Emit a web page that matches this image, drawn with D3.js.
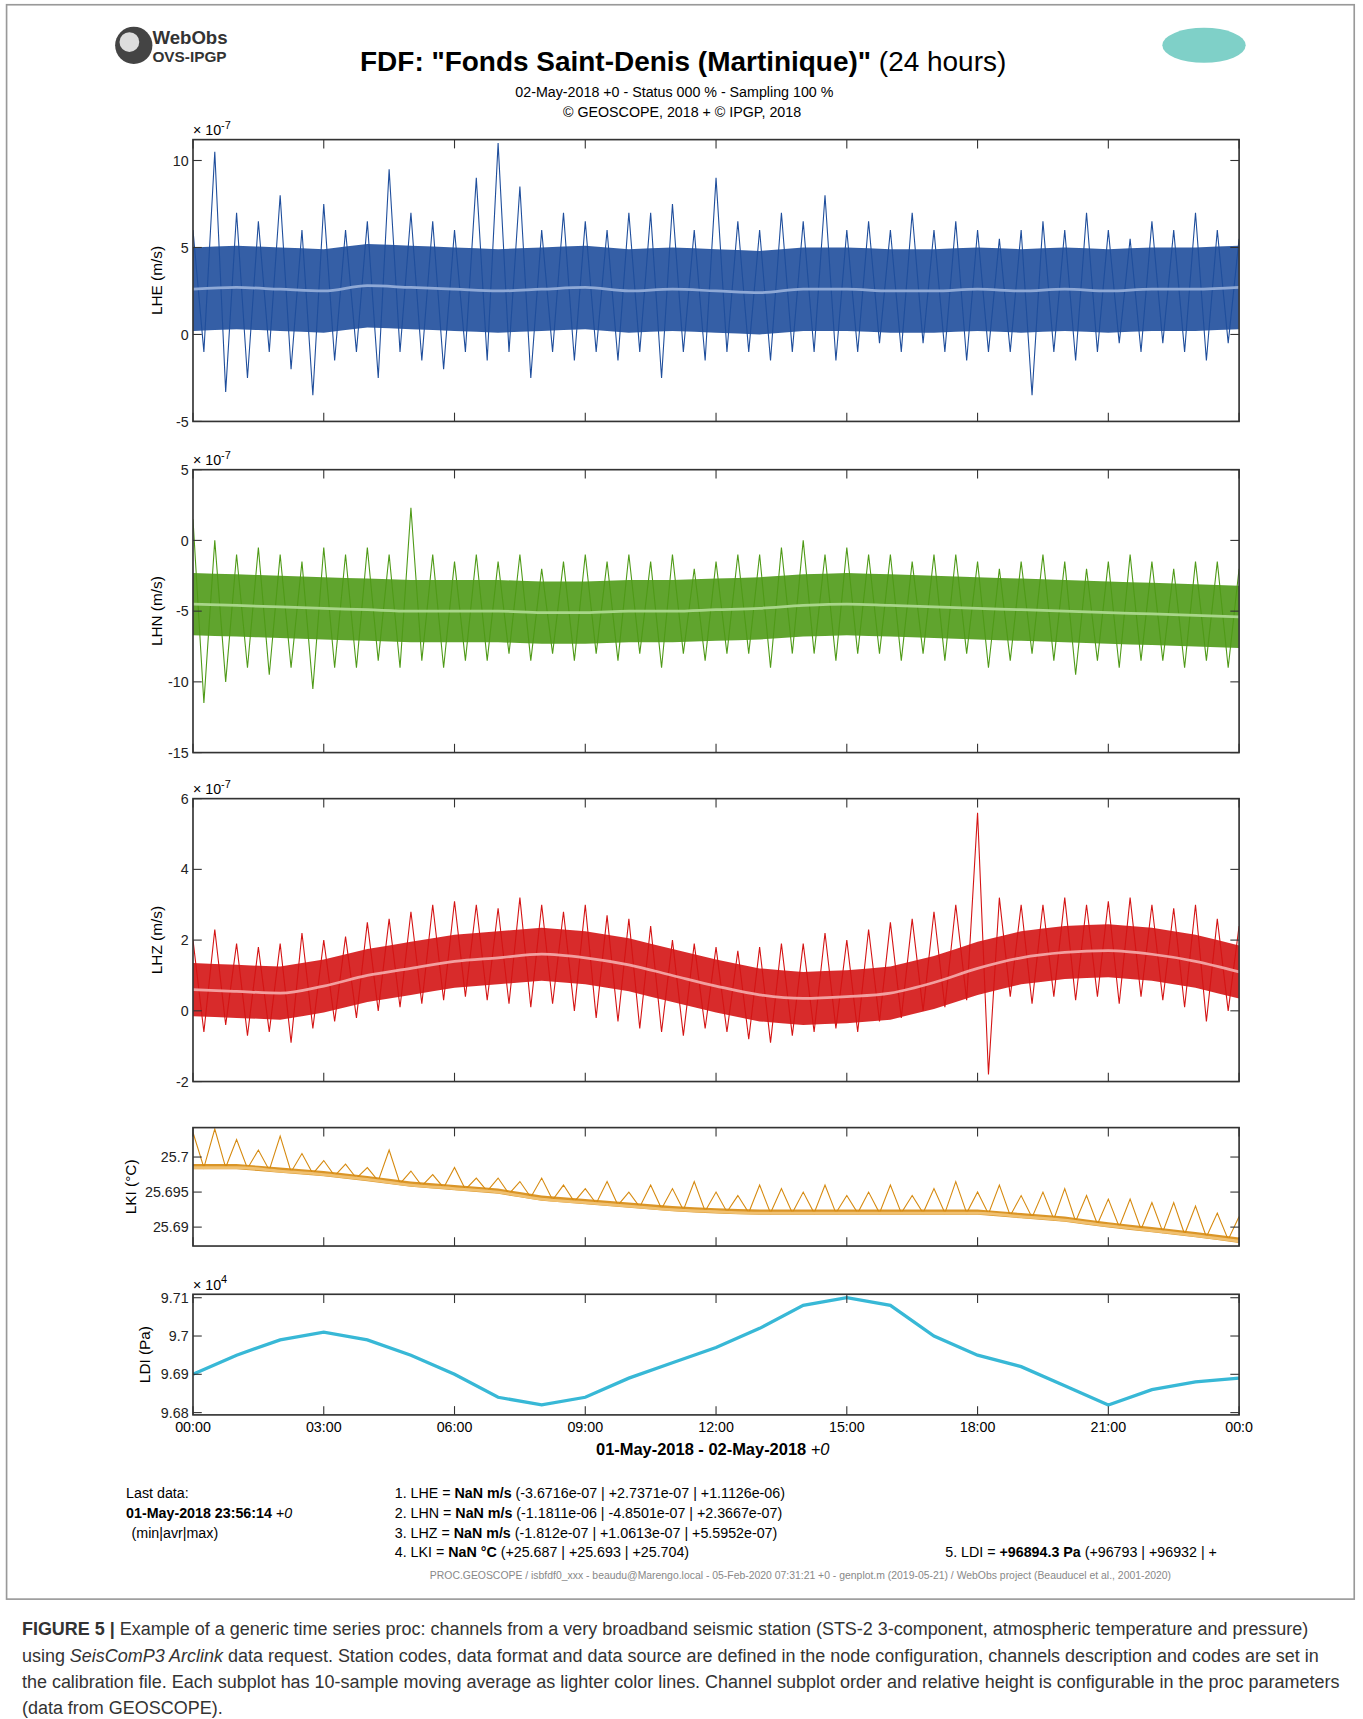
<!DOCTYPE html>
<html><head><meta charset="utf-8">
<script src="https://cdn.jsdelivr.net/npm/d3@7"></script>
<style>body{margin:0;background:#fff}text{font-family:"Liberation Sans",Arial,sans-serif}</style>
</head><body>
<script>
// ---- data ----
const hoursMean = d3.range(0,25);           // hourly samples
const hoursHalf = d3.range(0,24.01,0.5);    // half-hour samples
const xTickLabels = ["00:00","03:00","06:00","09:00","12:00","15:00","18:00","21:00","00:0"];

const lheMean=[2.6,2.7,2.6,2.5,2.8,2.7,2.6,2.5,2.6,2.7,2.5,2.6,2.5,2.4,2.6,2.6,2.5,2.5,2.6,2.5,2.6,2.5,2.6,2.6,2.7];
const lheHi=[6,10.5,7,6.5,8,6,7.5,6,6.5,9.5,7,6.5,6,9,11,8.5,6,7,6.5,6,7,7,7.5,6,9,6.5,6,7,6.5,8,6,6.5,6,7,6,6.5,6,5.5,6,6.5,6,7,6,5.5,6.5,6,7,6,5.5];
const lheLo=[-1,-3.3,-2.5,-1,-2,-3.5,-1.5,-1,-2.5,-1,-1.5,-2,-1,-1.5,-1,-2.5,-1,-1.5,-1,-1.5,-1,-2.5,-1,-1.5,-1,-1,-1.5,-1,-1,-1.5,-1,-0.5,-1,-0.5,-1,-1.5,-1,-1,-3.5,-1,-1.5,-1,-0.5,-1,-0.5,-1,-1.5,-0.5,0];

const lhnMean=[-4.5,-4.6,-4.7,-4.8,-4.9,-5,-5,-5,-5.1,-5.1,-5,-5,-4.9,-4.8,-4.6,-4.5,-4.6,-4.7,-4.8,-4.9,-5,-5.1,-5.2,-5.3,-5.4];
const lhnHi=[1.5,0,-1,-0.5,-1,-1.5,-0.5,-1,-0.5,-1,2.3,-1,-1.5,-1,-1.5,-1,-2,-1.5,-1,-1.5,-1,-1.5,-1,-2,-1.5,-1,-1,-0.5,0,-1,-0.5,-1,-1,-1.5,-1,-1,-1.5,-2,-1.5,-1,-1.5,-2,-1.5,-1,-1.5,-2,-1.5,-1.5,-2];
const lhnLo=[-11.5,-10,-9,-9.5,-9,-10.5,-9,-9,-8.5,-9,-8.5,-9,-8.5,-8.5,-8,-8.5,-8,-8.5,-8,-8.5,-8,-9,-8,-8.5,-8,-8,-9,-8,-8,-8.5,-8,-8,-8.5,-8,-8.5,-8,-9,-8.5,-8,-8.5,-9.5,-8.5,-9,-8.5,-8.5,-9,-8.5,-9,-8.5];

const lhzMean=[0.6,0.55,0.5,0.7,1.0,1.2,1.4,1.5,1.6,1.5,1.3,1.0,0.7,0.45,0.35,0.4,0.5,0.8,1.2,1.5,1.65,1.7,1.6,1.4,1.1];
const lhzHi=[2,2.3,1.9,1.8,1.9,2.2,2,2.1,2.5,2.6,2.8,3,3.1,3,2.9,3.2,3,2.8,3,2.7,2.6,2.4,2,1.9,1.8,1.7,1.8,1.9,1.9,2.2,2,2.3,2.5,2.6,2.8,3,5.6,3.2,3,3,3.2,3,3.1,3.2,3,2.9,3,2.6,2.4];
const lhzLo=[-0.6,-0.4,-0.7,-0.6,-0.9,-0.5,-0.3,-0.2,0,0.1,0.2,0.3,0.4,0.3,0.2,0.1,0.2,0,-0.2,-0.3,-0.5,-0.6,-0.7,-0.5,-0.6,-0.8,-0.9,-0.7,-0.6,-0.5,-0.6,-0.3,-0.2,0,0.1,0.3,-1.8,0.4,0.2,0.4,0.3,0.4,0.2,0.4,0.3,0.1,-0.3,0,-0.5];

const lkiMean=[25.6985,25.6985,25.698,25.6975,25.6968,25.696,25.6955,25.695,25.694,25.6935,25.693,25.6925,25.6922,25.692,25.692,25.692,25.692,25.692,25.692,25.6915,25.691,25.6902,25.6895,25.6888,25.688];
const lkiHi=[25.7035,25.704,25.7025,25.701,25.703,25.7005,25.6995,25.699,25.6985,25.701,25.698,25.6975,25.6985,25.697,25.697,25.6965,25.697,25.696,25.6955,25.6965,25.695,25.696,25.6955,25.6965,25.695,25.6945,25.696,25.6955,25.695,25.696,25.6945,25.695,25.696,25.6945,25.6955,25.6965,25.695,25.696,25.6945,25.695,25.6955,25.6945,25.694,25.694,25.6935,25.6935,25.693,25.692,25.6915];

const ldiMean=[9.690,9.695,9.699,9.701,9.699,9.695,9.690,9.684,9.682,9.684,9.689,9.693,9.697,9.702,9.708,9.710,9.708,9.700,9.695,9.692,9.687,9.682,9.686,9.688,9.689];

// ---- drawing ----
const svg=d3.select("body").append("svg").attr("width",1363).attr("height",1719)
  .attr("viewBox","0 0 1243 1567");
const X0=176,X1=1130;
const x=d3.scaleLinear().domain([0,24]).range([X0,X1]);
svg.append("rect").attr("x",6).attr("y",4).attr("width",1229).attr("height",1454).attr("fill","none").attr("stroke","#999").attr("stroke-width",1.5);

// title
const t=svg.append("text").attr("x",623).attr("y",64).attr("text-anchor","middle").attr("font-size",25.5);
t.append("tspan").attr("font-weight","bold").text('FDF: "Fonds Saint-Denis (Martinique)"');
t.append("tspan").text(" (24 hours)");
svg.append("text").attr("x",615).attr("y",88).attr("text-anchor","middle").attr("font-size",13).text("02-May-2018 +0 - Status 000 % - Sampling 100 %");
svg.append("text").attr("x",622).attr("y",106).attr("text-anchor","middle").attr("font-size",13).text("© GEOSCOPE, 2018 + © IPGP, 2018");
// logos
svg.append("circle").attr("cx",122).attr("cy",41).attr("r",17).attr("fill","#444");
svg.append("circle").attr("cx",118).attr("cy",38).attr("r",9).attr("fill","#ddd");
svg.append("text").attr("x",139).attr("y",40).attr("font-size",17).attr("font-weight","bold").attr("fill","#333").text("WebObs");
svg.append("text").attr("x",139).attr("y",56).attr("font-size",14).attr("font-weight","bold").attr("fill","#333").text("OVS-IPGP");
svg.append("ellipse").attr("cx",1098).attr("cy",41).attr("rx",38).attr("ry",16).attr("fill","#7fd0c8");

const panels=[
 {y0:127,y1:384,dom:[-5,11.2],ticks:[-5,0,5,10],lab:"LHE (m/s)",exp:"7",col:"#1f4e9c",light:"#8fa9d6",mean:lheMean,hi:lheHi,lo:lheLo,core:2.4},
 {y0:428,y1:686,dom:[-15,5],ticks:[-15,-10,-5,0,5],lab:"LHN (m/s)",exp:"7",col:"#4f9a17",light:"#a9d68a",mean:lhnMean,hi:lhnHi,lo:lhnLo,core:2.2},
 {y0:728,y1:986,dom:[-2,6],ticks:[-2,0,2,4,6],lab:"LHZ (m/s)",exp:"7",col:"#d41414",light:"#f2a0a0",mean:lhzMean,hi:lhzHi,lo:lhzLo,core:0.75},
 {y0:1028,y1:1136,dom:[25.6873,25.7042],ticks:[25.69,25.695,25.7],lab:"LKI (°C)",col:"#d68a10",light:"#f0c070",mean:lkiMean,hi:lkiHi,core:0.0005},
 {y0:1180,y1:1290,dom:[9.6794,9.7109],ticks:[9.68,9.69,9.7,9.71],lab:"LDI (Pa)",exp:"4",col:"#38b8d6",light:"#38b8d6",mean:ldiMean}
];
panels.forEach((p,i)=>{
  const y=d3.scaleLinear().domain(p.dom).range([p.y1,p.y0]);
  const g=svg.append("g");
  const clip="c"+i;
  g.append("clipPath").attr("id",clip).append("rect").attr("x",X0).attr("y",p.y0).attr("width",X1-X0).attr("height",p.y1-p.y0);
  const d=g.append("g").attr("clip-path",`url(#${clip})`);
  const meanAt=h=>{const k=Math.min(23,Math.floor(h));return p.mean[k]+(p.mean[k+1]-p.mean[k])*(h-k);};
  if(p.core){
    d.append("path").attr("fill",p.col).attr("opacity",0.9)
      .attr("d",d3.area().x(h=>x(h)).y0(h=>y(meanAt(h)-(p.lo?p.core:p.core*0.5))).y1(h=>y(meanAt(h)+p.core))(hoursHalf));
  }
  if(p.hi){
    const pts=[];
    hoursHalf.forEach((h,j)=>{
      pts.push([h,p.hi[j]]);
      pts.push([h+0.25,p.lo?p.lo[j]:meanAt(h+0.25)]);
    });
    d.append("path").attr("fill","none").attr("stroke",p.col).attr("stroke-width",1)
      .attr("d",d3.line().x(q=>x(q[0])).y(q=>y(q[1]))(pts.filter(q=>q[0]<=24)));
  }
  d.append("path").attr("fill","none").attr("stroke",p.light).attr("stroke-width",p.core?2.5:3)
    .attr("d",d3.line().curve(p.core?d3.curveMonotoneX:d3.curveLinear).x((v,k)=>x(hoursMean[k])).y(v=>y(v))(p.mean));
  g.append("rect").attr("x",X0).attr("y",p.y0).attr("width",X1-X0).attr("height",p.y1-p.y0).attr("fill","none").attr("stroke","#333").attr("stroke-width",1.5);
  const ax=d3.axisLeft(y).tickValues(p.ticks).tickSize(0).tickPadding(4)
    .tickFormat(v=>i==3?d3.format("")(+v.toFixed(3)):i==4?d3.format(".2f")(v).replace(/0$/,""):v);
  const ag=g.append("g").attr("transform",`translate(${X0},0)`).call(ax);
  ag.select(".domain").remove();
  ag.selectAll("text").attr("font-size",13).attr("fill","#222");
  p.ticks.forEach(v=>{
    g.append("line").attr("x1",X0).attr("x2",X0+8).attr("y1",y(v)).attr("y2",y(v)).attr("stroke","#333");
    g.append("line").attr("x1",X1).attr("x2",X1-8).attr("y1",y(v)).attr("y2",y(v)).attr("stroke","#333");
  });
  d3.range(0,25,3).forEach(h=>{
    g.append("line").attr("x1",x(h)).attr("x2",x(h)).attr("y1",p.y1).attr("y2",p.y1-8).attr("stroke","#333");
    g.append("line").attr("x1",x(h)).attr("x2",x(h)).attr("y1",p.y0).attr("y2",p.y0+8).attr("stroke","#333");
  });
  if(p.exp){
    const e=g.append("text").attr("x",X0).attr("y",p.y0-4).attr("font-size",13);
    e.append("tspan").text("× 10");
    e.append("tspan").attr("dy",-6).attr("font-size",10).text((p.exp=="7"?"-":"")+p.exp);
  }
  g.append("text").attr("transform",`translate(${i==3?124:i==4?137:148},${(p.y0+p.y1)/2}) rotate(-90)`)
    .attr("text-anchor","middle").attr("font-size",14).text(p.lab);
});
xTickLabels.forEach((l,k)=>svg.append("text").attr("x",x(k*3)).attr("y",1306).attr("text-anchor","middle").attr("font-size",13).text(l));
const xl=svg.append("text").attr("x",650).attr("y",1327).attr("text-anchor","middle").attr("font-size",15);
xl.append("tspan").attr("font-weight","bold").text("01-May-2018 - 02-May-2018");
xl.append("tspan").attr("font-style","italic").text("   +0");

const fs=13;
svg.append("text").attr("x",115).attr("y",1366).attr("font-size",fs).text("Last data:");
const ld=svg.append("text").attr("x",115).attr("y",1384).attr("font-size",fs);
ld.append("tspan").attr("font-weight","bold").text("01-May-2018 23:56:14");
ld.append("tspan").attr("font-style","italic").text("  +0");
svg.append("text").attr("x",120).attr("y",1402).attr("font-size",fs).text("(min|avr|max)");
const rows=[["1. LHE = ","NaN m/s","  (-3.6716e-07 | +2.7371e-07 | +1.1126e-06)",360,1366],
 ["2. LHN = ","NaN m/s","  (-1.1811e-06 | -4.8501e-07 | +2.3667e-07)",360,1384],
 ["3. LHZ = ","NaN m/s","  (-1.812e-07 | +1.0613e-07 | +5.5952e-07)",360,1402],
 ["4. LKI = ","NaN °C","  (+25.687 | +25.693 | +25.704)",360,1420],
 ["5. LDI = ","+96894.3 Pa","  (+96793 | +96932 | +",862,1420]];
rows.forEach(r=>{const tt=svg.append("text").attr("x",r[3]).attr("y",r[4]).attr("font-size",fs);
 tt.append("tspan").text(r[0]);tt.append("tspan").attr("font-weight","bold").text(r[1]);tt.append("tspan").text(r[2]);});
svg.append("text").attr("x",730).attr("y",1440).attr("text-anchor","middle").attr("font-size",9.5).attr("fill","#888")
 .text("PROC.GEOSCOPE / isbfdf0_xxx - beaudu@Marengo.local - 05-Feb-2020 07:31:21 +0 - genplot.m (2019-05-21) / WebObs project (Beauducel et al., 2001-2020)");

const cap=[
 [["b","FIGURE 5 | "],["n","Example of a generic time series proc: channels from a very broadband seismic station (STS-2 3-component, atmospheric temperature and pressure)"]],
 [["n","using "],["i","SeisComP3 Arclink"],["n"," data request. Station codes, data format and data source are defined in the node configuration, channels description and codes are set in"]],
 [["n","the calibration file. Each subplot has 10-sample moving average as lighter color lines. Channel subplot order and relative height is configurable in the proc parameters"]],
 [["n","(data from GEOSCOPE)."]]];
cap.forEach((ln,k)=>{const tt=svg.append("text").attr("x",20).attr("y",1491+k*24).attr("font-size",16.4).attr("fill","#333");
 ln.forEach(s=>{const ts=tt.append("tspan").text(s[1]);if(s[0]=="b")ts.attr("font-weight","bold");if(s[0]=="i")ts.attr("font-style","italic");});});
</script>
</body></html>
